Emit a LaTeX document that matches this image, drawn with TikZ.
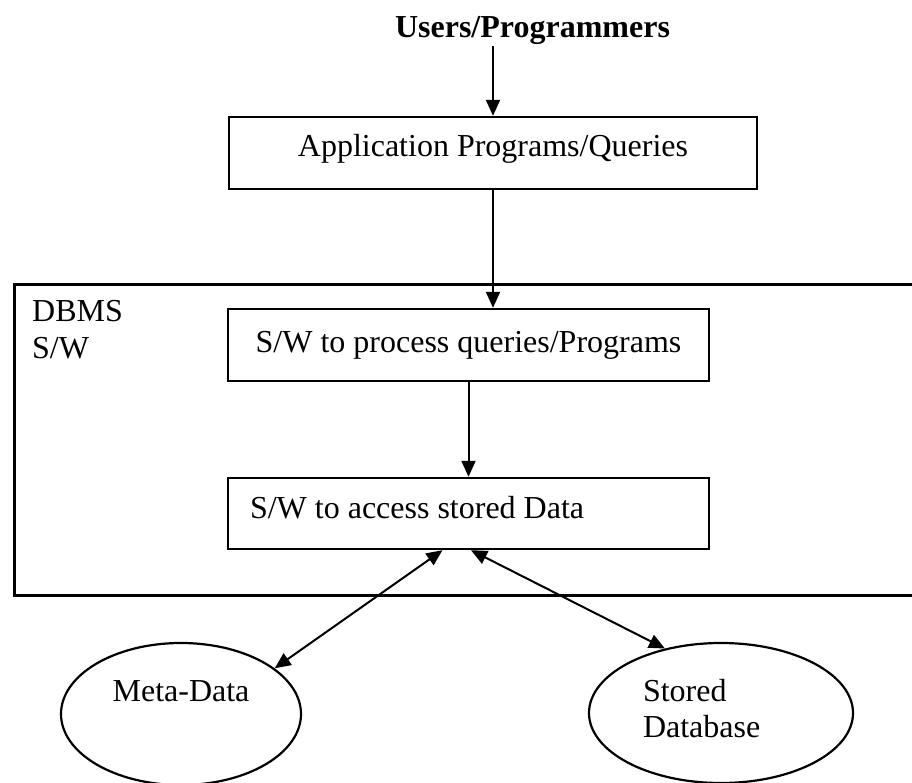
\documentclass[tikz,border=0pt]{standalone}
\usepackage{fontspec}
\setmainfont{Liberation Serif}
\usetikzlibrary{arrows.meta,shapes.geometric}
\begin{document}
\begin{tikzpicture}[x=1pt,y=-1pt,
  font=\fontsize{32}{36}\selectfont,
  boxnode/.style={draw, line width=2.4pt, rectangle, inner sep=0pt},
  blob/.style={draw, line width=2.2pt, ellipse, inner sep=0pt},
  arr/.style={line width=2pt, -{Triangle[length=16pt,width=14pt]}},
  dblarr/.style={line width=2pt, {Triangle[length=16pt,width=14pt]}-{Triangle[length=16pt,width=14pt]}},
]
\useasboundingbox (0,0) rectangle (912,783);

% DBMS software container (open to the right)
\node[draw, line width=2.8pt, rectangle, inner sep=0pt,
      minimum width=940pt, minimum height=311pt, anchor=north west] (dbms) at (13,283) {};
\node[anchor=base west, text width=100pt, align=flush left, inner sep=0pt] (dbmslabel) at (32,322) {DBMS\\S/W};

% users at the top
\node[font=\fontsize{32}{36}\selectfont\bfseries, anchor=base, inner sep=1pt] (users) at (532.5,38) {Users/Programmers};

% layered boxes
\node[boxnode, minimum width=528pt, minimum height=72pt, text height=8pt, text depth=0pt]
  (app) at (493,153) {Application Programs/Queries};
\node[boxnode, minimum width=481pt, minimum height=72pt, text height=14pt, text depth=0pt]
  (proc) at (468.5,345) {S/W to process queries/Programs};
\node[boxnode, minimum width=481pt, minimum height=71pt, text width=437pt, align=flush left,
      text height=9pt, text depth=0pt]
  (acc) at (468.5,513.5) {S/W to access stored Data};

% storage
\node[blob, minimum width=240pt, minimum height=142pt, text height=0pt, text depth=26pt]
  (meta) at (181,714) {Meta-Data};
\node[blob, minimum width=264pt, minimum height=140pt, text width=156pt, align=flush left,
      text height=0pt, text depth=24pt]
  (stored) at (721,713) {Stored\\Database};

% connectors
\draw[arr] (users.south -| app.north) -- (app.north);
\draw[arr] (app.south) -- (app.south |- proc.north);
\draw[arr] (proc.south) -- (acc.north);
\draw[dblarr] (meta.26) -- ([xshift=-26pt]acc.south);
\draw[dblarr] ([xshift=2.5pt]acc.south) -- (stored.131);
\end{tikzpicture}
\end{document}
